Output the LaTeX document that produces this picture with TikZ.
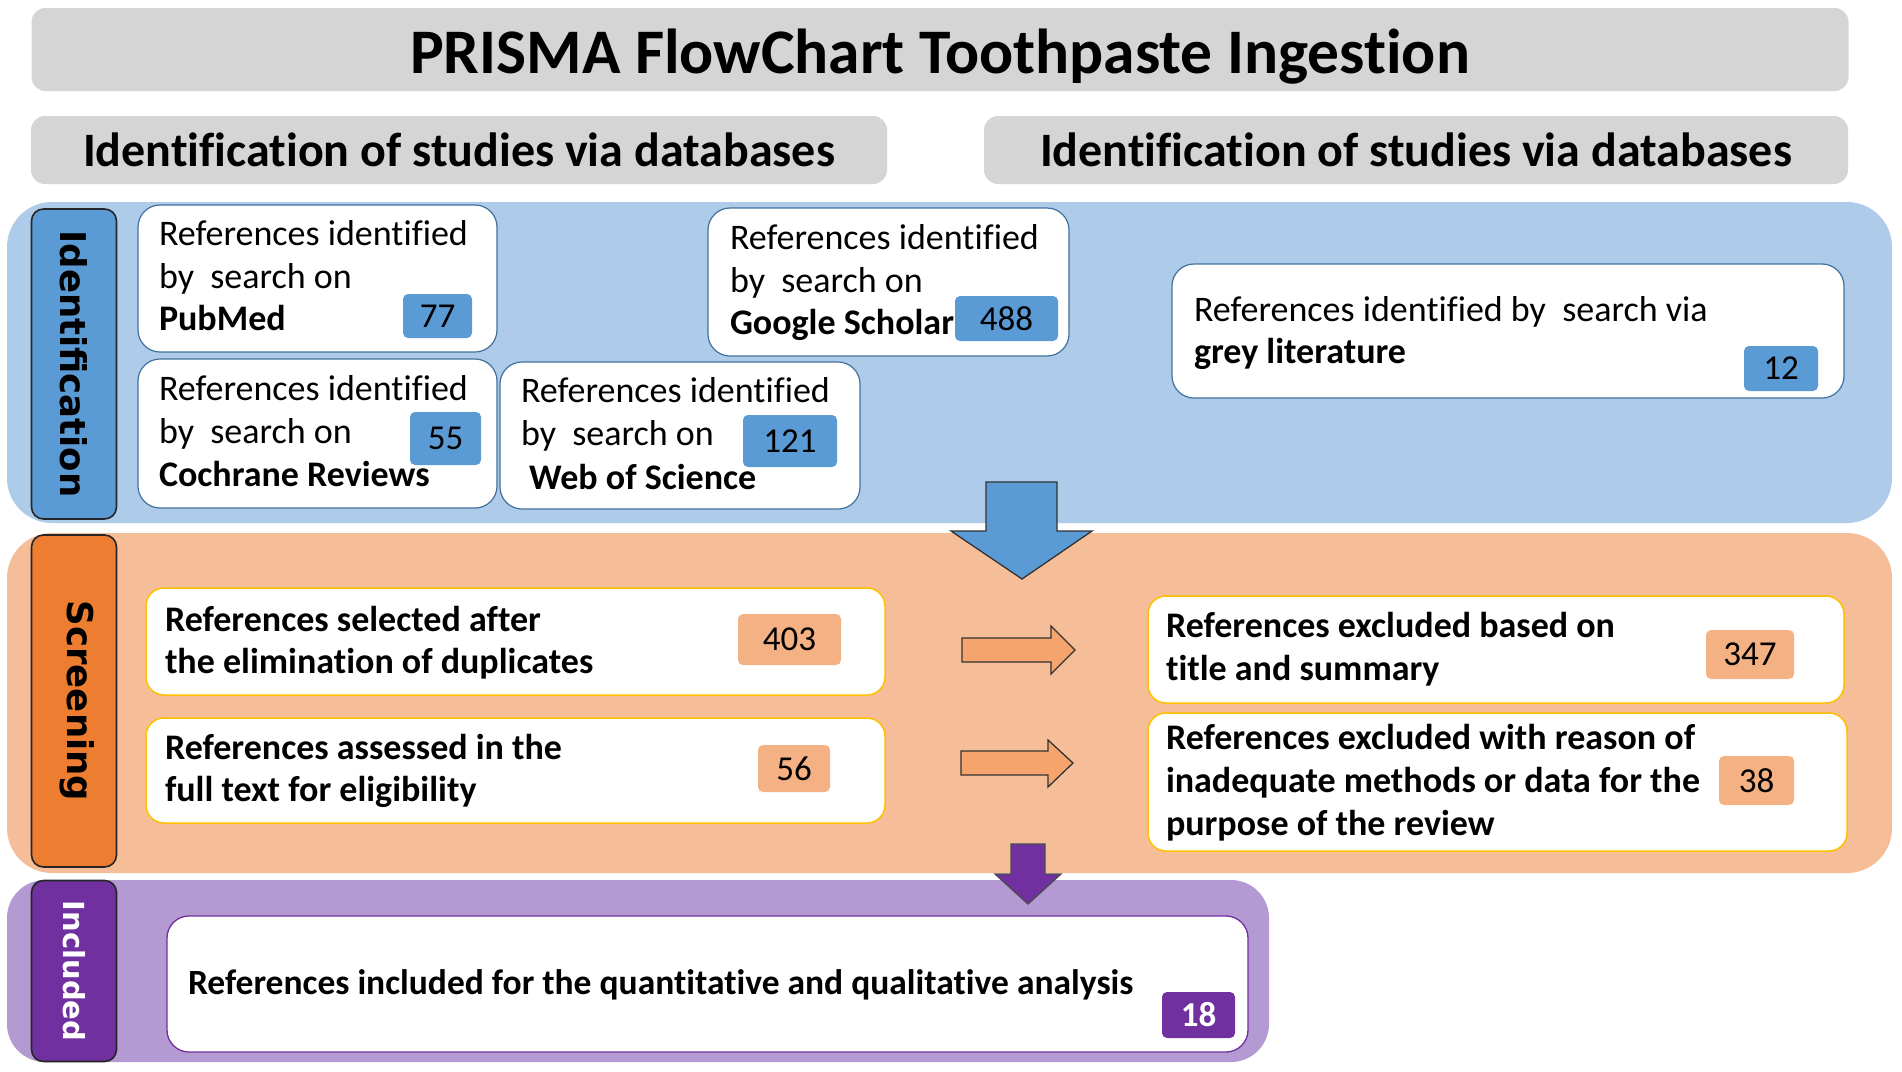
\documentclass[tikz,border=0pt]{standalone}
\usepackage{fontspec}
\setmainfont{Carlito}[Ligatures={NoCommon,NoContextual},Contextuals=NoAlternate]
\newfontfamily\labfont{DejaVu Sans}
\definecolor{greybar}{HTML}{D5D5D5}
\definecolor{bandblue}{HTML}{AECBEA}
\definecolor{bandorange}{HTML}{F5BE98}
\definecolor{bandpurple}{HTML}{B39AD2}
\definecolor{midblue}{HTML}{5B9BD5}
\definecolor{darkorange}{HTML}{ED7D31}
\definecolor{arrorange}{HTML}{F4A46C}
\definecolor{badgeorange}{HTML}{F4B183}
\definecolor{darkpurple}{HTML}{7030A0}
\definecolor{idline}{HTML}{41719C}
\definecolor{yelline}{HTML}{FFC000}
\definecolor{labline}{HTML}{262626}
\begin{document}
\begin{tikzpicture}[x=1pt,y=-1pt,
  every node/.style={inner sep=0pt, outer sep=0pt},
  bar/.style={fill=greybar, rounded corners=14pt},
  band/.style={rounded corners=45pt},
  lab/.style={draw=labline, line width=1.6pt, rounded corners=12pt},
  idbox/.style={fill=white, draw=idline, line width=1.2pt, rounded corners=22pt},
  scbox/.style={fill=white, draw=yelline, line width=1.5pt, rounded corners=18pt},
  incbox/.style={fill=white, draw=darkpurple, line width=1.3pt, rounded corners=22pt},
  badge/.style={rounded corners=5pt, font=\fontsize{35}{40}\selectfont},
  tl/.style={anchor=base west, font=\fontsize{36}{42}\selectfont},
  tlb/.style={anchor=base west, font=\fontsize{36}{42}\selectfont\bfseries},
  vlab/.style={rotate=-90, font=\labfont\bfseries\fontsize{35.5}{40}\selectfont},
  blockarrow/.style={line width=1.3pt, line join=miter}
]
\useasboundingbox (0,0) rectangle (1902,1071);
\fill[white] (0,0) rectangle (1902,1071);

% header bars
\node[bar, minimum width=1817pt, minimum height=83pt] (title) at (940,49.5) {};
\node[anchor=base, font=\fontsize{63.5}{70}\selectfont\bfseries] (titletxt) at (940,73) {PRISMA FlowChart Toothpaste Ingestion};
\node[bar, minimum width=856pt, minimum height=68pt, font=\fontsize{48}{55}\selectfont\bfseries] (subl) at (459,150) {Identification of studies via databases};
\node[bar, minimum width=864pt, minimum height=68pt, font=\fontsize{48}{55}\selectfont\bfseries] (subr) at (1416,150) {Identification of studies via databases};

% bands
\node[band, fill=bandblue, minimum width=1885pt, minimum height=321pt] (bandid) at (949.5,362.5) {};
\node[band, fill=bandorange, minimum width=1885pt, minimum height=340pt] (bandsc) at (949.5,703) {};
\node[band, rounded corners=38pt, fill=bandpurple, minimum width=1262pt, minimum height=182pt] (bandin) at (638,971) {};

% phase labels
\node[lab, fill=midblue, minimum width=85pt, minimum height=310pt] (idlab) at (74,364) {};
\node[vlab, text=black] (idtxt) at (idlab.center) {Identification};
\node[lab, fill=darkorange, minimum width=85pt, minimum height=332pt] (sclab) at (74,701) {};
\node[vlab, text=black] (sctxt) at (77,701) {Screening};
\node[lab, fill=darkpurple, minimum width=85pt, minimum height=181pt] (inlab) at (74,971) {};
\node[vlab, text=white, font=\labfont\bfseries\fontsize{29}{34}\selectfont] (intxt) at (inlab.center) {Included};

% identification boxes
\node[idbox, minimum width=359pt, minimum height=147pt] (pub) at (317.5,278.5) {};
\node[idbox, minimum width=359pt, minimum height=149pt] (coch) at (317.5,433.5) {};
\node[idbox, minimum width=360pt, minimum height=147pt] (wos) at (680,435.5) {};
\node[idbox, minimum width=361pt, minimum height=148pt] (goog) at (888.5,282) {};
\node[idbox, minimum width=672pt, minimum height=134pt] (grey) at (1508,331) {};

\node[tl] (pub1) at (159,245) {References identified};
\node[tl] (pub2) at (159,288) {by\ \ search on};
\node[tlb] (pub3) at (159,330) {PubMed};
\node[tl] (goog1) at (730,249) {References identified};
\node[tl] (goog2) at (730,292) {by\ \ search on};
\node[tlb] (goog3) at (730,334) {Google Scholar};
\node[tl] (grey1) at (1194,321) {References identified by\ \ search via};
\node[tlb] (grey2) at (1194,363) {grey literature};
\node[tl] (coch1) at (159,400) {References identified};
\node[tl] (coch2) at (159,443) {by\ \ search on};
\node[tlb] (coch3) at (159,486) {Cochrane Reviews};
\node[tl] (wos1) at (521,402) {References identified};
\node[tl] (wos2) at (521,445) {by\ \ search on};
\node[tlb] (wos3) at (529,489) {Web of Science};

\node[badge, fill=midblue, minimum width=69pt, minimum height=44pt] (b77) at (437.5,316) {77};
\node[badge, fill=midblue, minimum width=71pt, minimum height=53pt] (b55) at (445.5,438.5) {55};
\node[badge, fill=midblue, minimum width=94pt, minimum height=52pt] (b121) at (790,441) {121};
\node[badge, fill=midblue, minimum width=103pt, minimum height=45pt] (b488) at (1006.5,318.5) {488};
\node[badge, fill=midblue, minimum width=74pt, minimum height=45pt] (b12) at (1781,368.5) {12};

% screening boxes
\node[scbox, minimum width=739pt, minimum height=107pt] (s403) at (515.5,641.5) {};
\node[scbox, minimum width=739pt, minimum height=105pt] (s56) at (515.5,770.5) {};
\node[scbox, minimum width=696pt, minimum height=107pt] (s347) at (1496,649.5) {};
\node[scbox, minimum width=699pt, minimum height=138pt] (s38) at (1497.5,782) {};

\node[tlb] (s403a) at (165,631) {References selected after};
\node[tlb] (s403b) at (165,673) {the elimination of duplicates};
\node[tlb] (s56a) at (165,759) {References assessed in the};
\node[tlb] (s56b) at (165,801) {full text for eligibility};
\node[tlb] (s347a) at (1166,637) {References excluded based on};
\node[tlb] (s347b) at (1166,680) {title and summary};
\node[tlb] (s38a) at (1166,749) {References excluded with reason of};
\node[tlb] (s38b) at (1166,792) {inadequate methods or data for the};
\node[tlb] (s38c) at (1166,835) {purpose of the review};

\node[badge, fill=badgeorange, minimum width=103pt, minimum height=51pt] (b403) at (789.5,639.5) {403};
\node[badge, fill=badgeorange, minimum width=72pt, minimum height=47pt] (b56) at (794,768.5) {56};
\node[badge, fill=badgeorange, minimum width=88pt, minimum height=49pt] (b347) at (1750,654.5) {347};
\node[badge, fill=badgeorange, minimum width=75pt, minimum height=49pt] (b38) at (1756.5,780.5) {38};

% included
\node[incbox, minimum width=1081pt, minimum height=136pt] (inc) at (707.5,984) {};
\node[tlb, font=\fontsize{35.5}{42}\selectfont\bfseries] (inctxt) at (188,994) {References included for the quantitative and qualitative analysis};
\node[badge, fill=darkpurple, text=white, font=\fontsize{35}{40}\selectfont\bfseries, minimum width=73pt, minimum height=46pt] (b18) at (1198.5,1015) {18};

% block arrows
\draw[blockarrow, fill=midblue, draw=black!80] (986,482) -- (1057,482) -- (1057,531) -- (1092,531) -- (1022,579) -- (951,531) -- (986,531) -- cycle;
\draw[blockarrow, fill=arrorange, draw=black!80] (962,638) -- (1051,638) -- (1051,626) -- (1075,650) -- (1051,674) -- (1051,662) -- (962,662) -- cycle;
\draw[blockarrow, fill=arrorange, draw=black!80] (961,751) -- (1048,751) -- (1048,740) -- (1073,763) -- (1048,787) -- (1048,775) -- (961,775) -- cycle;
\draw[blockarrow, fill=darkpurple, draw=black!70] (1011,844) -- (1045,844) -- (1045,874) -- (1061,874) -- (1028,904) -- (995,874) -- (1011,874) -- cycle;
\end{tikzpicture}
\end{document}
